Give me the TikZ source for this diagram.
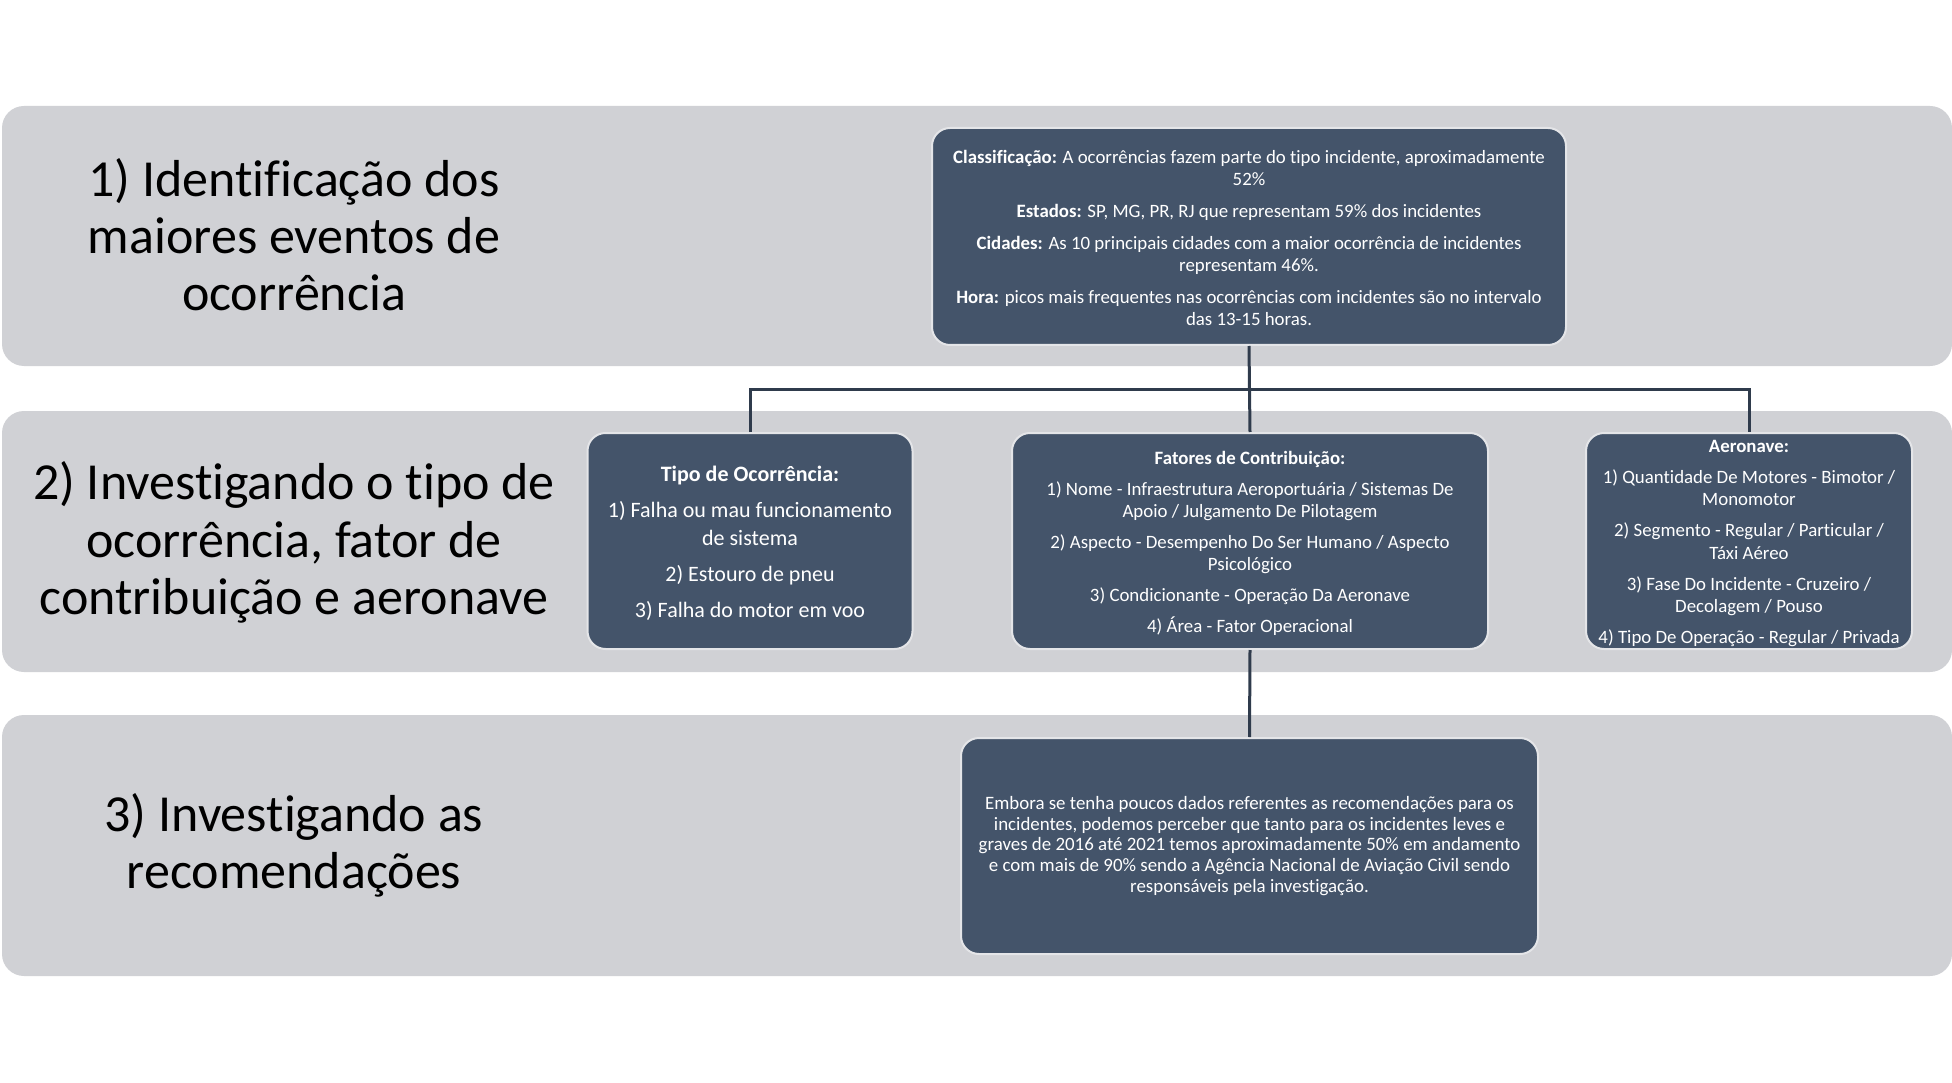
\documentclass[tikz,border=0pt]{standalone}
\usepackage{fontspec}
\setmainfont{Carlito}[Ligatures=NoCommon]
\definecolor{bandc}{HTML}{D0D1D5}
\definecolor{boxfill}{HTML}{44546A}
\definecolor{boxline}{HTML}{E4E5E8}
\definecolor{connc}{HTML}{2F3B4C}
\tikzset{
  band/.style={fill=bandc, rounded corners=22pt},
  title/.style={align=center, text=black, font={\fontsize{52}{57.3}\selectfont}},
  infobox/.style={draw=boxline, line width=2pt, fill=boxfill, rounded corners=18pt},
  boxtext/.style={text=white, align=center, inner sep=0pt},
  smalltext/.style={font={\fontsize{18.85}{22.4}\selectfont}}
}
\tikzset{conn/.style={draw=connc, line width=3pt}}
\begin{document}
\begin{tikzpicture}[x=1pt,y=-1pt]
\useasboundingbox[fill=white] (0,0) rectangle (1952,1083);
% bands
\fill[band] (2,106) rectangle (1952,366);
\fill[band] (2,411) rectangle (1952,672);
\fill[band] (2,715) rectangle (1952,976);
% titles
\node[title] (t1) at (294,234.5) {1) Identificação dos\\maiores eventos de\\ocorrência};
\node[title] (t2) at (294,542.5) {2) Investigando o tipo de\\ocorrência, fator de\\contribuição e aeronave};
\node[title] (t3) at (294,845) {3) Investigando as\\recomendações};
% boxes
\node[infobox, minimum width=634pt, minimum height=217pt] (top) at (1249,236.5) {};
\node[boxtext, smalltext] (topT) at ([yshift=-1.5pt]top.center)
 {\textbf{Classificação:} A ocorrências fazem parte do tipo incidente, aproximadamente\\52\%\\[9.3pt]
  \textbf{Estados:} SP, MG, PR, RJ que representam 59\% dos incidentes\\[9.3pt]
  \textbf{Cidades:} As 10 principais cidades com a maior ocorrência de incidentes\\representam 46\%.\\[9.3pt]
  \textbf{Hora:} picos mais frequentes nas ocorrências com incidentes são no intervalo\\das 13-15 horas.};
\node[infobox, minimum width=325pt, minimum height=216pt] (tipo) at (750,541) {};
\node[boxtext, font={\fontsize{22}{27.4}\selectfont}] (tipoT) at ([yshift=-2.5pt]tipo.center)
 {\textbf{Tipo de Ocorrência:}\\[8.6pt]
  1) Falha ou mau funcionamento\\de sistema\\[8.6pt]
  2) Estouro de pneu\\[8.6pt]
  3) Falha do motor em voo};
\node[infobox, minimum width=476pt, minimum height=216pt] (fat) at (1250,541) {};
\node[boxtext, smalltext] (fatT) at ([yshift=-2.5pt]fat.center)
 {\textbf{Fatores de Contribuição:}\\[8.6pt]
  1) Nome - Infraestrutura Aeroportuária / Sistemas De\\Apoio / Julgamento De Pilotagem\\[8.6pt]
  2) Aspecto - Desempenho Do Ser Humano / Aspecto\\Psicológico\\[8.6pt]
  3) Condicionante - Operação Da Aeronave\\[8.6pt]
  4) Área - Fator Operacional};
\node[infobox, minimum width=326pt, minimum height=216pt] (aero) at (1749,541) {};
\node[boxtext, smalltext] (aeroT) at ([yshift=-2.5pt]aero.center)
 {\textbf{Aeronave:}\\[8.6pt]
  1) Quantidade De Motores - Bimotor /\\Monomotor\\[8.6pt]
  2) Segmento - Regular / Particular /\\Táxi Aéreo\\[8.6pt]
  3) Fase Do Incidente - Cruzeiro /\\Decolagem / Pouso\\[8.6pt]
  4) Tipo De Operação - Regular / Privada};
\node[infobox, minimum width=577pt, minimum height=216pt] (rec) at (1249.5,846) {};
\node[boxtext, font={\fontsize{18.9}{20.8}\selectfont}] (recT) at (rec.center)
 {Embora se tenha poucos dados referentes as recomendações para os\\
  incidentes, podemos perceber que tanto para os incidentes leves e\\
  graves de 2016 até 2021 temos aproximadamente 50\% em andamento\\
  e com mais de 90\% sendo a Agência Nacional de Aviação Civil sendo\\
  responsáveis pela investigação.};
% connectors
\coordinate (j) at (1250,389);
\draw[conn] (top.south) -- (fat.north);
\draw[conn] (tipo.north) -- (tipo.north |- j) -- (aero.north |- j) -- (aero.north);
\draw[conn] (fat.south) -- (rec.north);
\end{tikzpicture}
\end{document}
